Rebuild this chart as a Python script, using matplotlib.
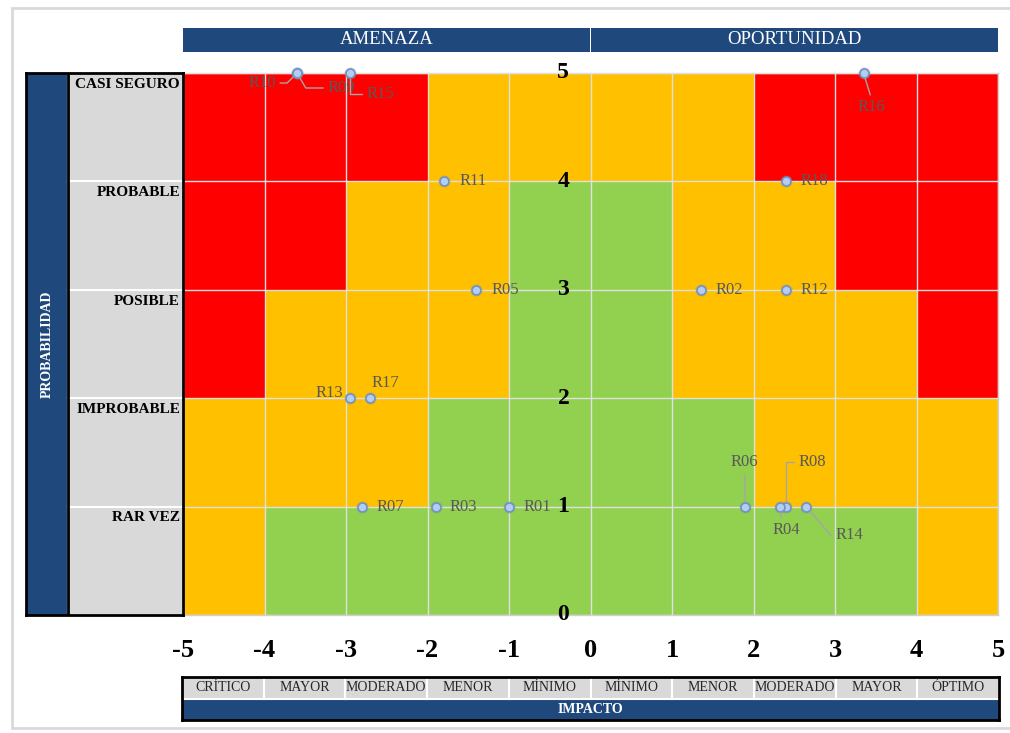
import matplotlib
matplotlib.use("Agg")
import matplotlib.pyplot as plt
import numpy as np
from matplotlib.colors import ListedColormap
from matplotlib.patches import Rectangle

plt.rcParams["font.family"] = ["Liberation Serif", "DejaVu Serif"]

W, H = 1010, 733

# impact axis: threat side negative, opportunity side positive
X_EDGES = np.arange(-5, 6)
Y_EDGES = np.arange(0, 6)
X_TICKS = [-5, -4, -3, -2, -1, 0, 1, 2, 3, 4, 5]
Y_TICKS = [0, 1, 2, 3, 4, 5]

# 0 = green, 1 = amber, 2 = red ; rows from bottom (RAR VEZ) to top (CASI SEGURO)
LEVELS = [
    [1, 0, 0, 0, 0, 0, 0, 0, 0, 1],
    [1, 1, 1, 0, 0, 0, 0, 1, 1, 1],
    [2, 1, 1, 1, 0, 0, 1, 1, 1, 2],
    [2, 2, 1, 1, 0, 0, 1, 1, 2, 2],
    [2, 2, 2, 1, 1, 1, 1, 2, 2, 2],
]

PROB_LABELS = ["RAR VEZ", "IMPROBABLE", "POSIBLE", "PROBABLE", "CASI SEGURO"]
IMPACT_LABELS = ["CRÍTICO", "MAYOR", "MODERADO", "MENOR", "MÍNIMO",
                 "MÍNIMO", "MENOR", "MODERADO", "MAYOR", "ÓPTIMO"]
HEADERS = ["AMENAZA", "OPORTUNIDAD"]

RISK_IDS = ["R10", "R09", "R15", "R16", "R11", "R18", "R05", "R02", "R12",
            "R13", "R17", "R07", "R03", "R01", "R06", "R08", "R04", "R14"]
RISK_X = [-3.6, -3.6, -2.95, 3.35, -1.8, 2.4, -1.4, 1.35, 2.4,
          -2.95, -2.7, -2.8, -1.9, -1.0, 1.9, 2.4, 2.33, 2.65]
RISK_Y = [5, 5, 5, 5, 4, 4, 3, 3, 3,
          2, 2, 1, 1, 1, 1, 1, 1, 1]

# label placement: pixel offset, and leader line (text anchor, connection) or None
LABEL_OFFSETS = {
    "R10": (-35, -10, ((1, 0.5), "angle,angleA=0,angleB=45,rad=0")),
    "R09": (44, -15, ((0, 0.5), "angle,angleA=0,angleB=-60,rad=0")),
    "R15": (30, -21, ((0, 0.5), "angle,angleA=0,angleB=90,rad=0")),
    "R16": (8, -34, ((0.5, 1), "arc3")),
    "R11": (29, 0, None), "R18": (28, 0, None),
    "R05": (29, 0, None), "R02": (29, 0, None), "R12": (28, 0, None),
    "R13": (-21, 5, None), "R17": (15, 15, None), "R07": (28, 0, None),
    "R03": (28, 0, None), "R01": (28, 0, None),
    "R06": (-1, 45, ((0.5, 0), "arc3")),
    "R08": (26, 45, ((0, 0.5), "angle,angleA=0,angleB=90,rad=0")),
    "R04": (6, -23, ((0.3, 1), "arc3")),
    "R14": (43, -28, ((0, 0.5), "angle,angleA=0,angleB=-50,rad=0")),
}

RED, AMBER, GREEN = "#ff0000", "#ffc000", "#92d050"
NAVY = "#1f497d"
GREY = "#d9d9d9"


def box(l, t, r, b):
    return [l / W, 1 - b / H, (r - l) / W, (b - t) / H]


fig = plt.figure(figsize=(W / 100, H / 100), dpi=100)
fig.patches.append(Rectangle((12 / W, 1 - 728 / H), 1.0, 720 / H, transform=fig.transFigure,
                             facecolor="white", edgecolor="#d9d9d9", lw=2, zorder=-10))

# main matrix
ax = fig.add_axes(box(183, 73, 998, 615))
ax.pcolormesh(X_EDGES, Y_EDGES, np.array(LEVELS), cmap=ListedColormap([GREEN, AMBER, RED]),
              vmin=-0.5, vmax=2.5)
ax.set_xlim(-5, 5)
ax.set_ylim(0, 5)
ax.set_xticks(X_TICKS)
ax.set_xticklabels([str(v) for v in X_TICKS], fontsize=19, fontweight="bold")
ax.set_yticks(Y_TICKS)
ax.set_yticklabels([])
ax.tick_params(length=0, pad=17)
ax.grid(True, color="#e0e0e0", lw=1)
ax.set_axisbelow(False)
for s in ax.spines.values():
    s.set_color("#d0d0d0")
    s.set_linewidth(1)
for v in Y_TICKS:
    ax.text(-0.26, v, str(v), ha="right", va="center", fontsize=17, fontweight="bold",
            clip_on=False, zorder=6)

ax.scatter(RISK_X, RISK_Y, s=80, color="#888888", alpha=0.25, zorder=4, clip_on=False, lw=0)
ax.scatter(RISK_X, RISK_Y, s=42, facecolor="#b4cdf0", edgecolor="#6f93c8", lw=1.2,
           zorder=5, clip_on=False)

for rid, x, y in zip(RISK_IDS, RISK_X, RISK_Y):
    dx, dy, leader = LABEL_OFFSETS[rid]
    kw = {}
    if leader:
        relpos, conn = leader
        kw["arrowprops"] = dict(arrowstyle="-", color="#a6a6a6", lw=1, shrinkA=1, shrinkB=4,
                                relpos=relpos, connectionstyle=conn)
    ax.annotate(rid, (x, y), xytext=(dx * 0.72, dy * 0.72), textcoords="offset points",
                ha="center", va="center", fontsize=12, color="#595959", zorder=6, **kw)

# probability panel
axl = fig.add_axes(box(26, 73, 183, 615))
axl.set_xlim(26, 183)
axl.set_ylim(0, 5)
axl.add_patch(Rectangle((26, 0), 42, 5, facecolor=NAVY, edgecolor="none"))
for i, lab in enumerate(PROB_LABELS):
    axl.add_patch(Rectangle((68, i), 115, 1, facecolor=GREY, edgecolor="white", lw=1.5))
    axl.text(180, i + 0.895, lab, ha="right", va="center", fontsize=11, fontweight="bold")
axl.axvline(68, color="black", lw=2)
axl.text(47, 2.5, "PROBABILIDAD", rotation=90, ha="center", va="center",
         color="white", fontsize=10, fontweight="bold")
axl.set_xticks([])
axl.set_yticks([])
for s in axl.spines.values():
    s.set_linewidth(2)

# headers
axt = fig.add_axes(box(183, 28, 998, 52))
axt.set_xlim(-5, 5)
axt.set_ylim(0, 1)
for j, lab in enumerate(HEADERS):
    x0 = -5 + 5 * j
    axt.add_patch(Rectangle((x0 + 0.01 * j, 0), 5 - 0.01, 1, facecolor=NAVY, edgecolor="none"))
    axt.text(x0 + 2.5, 0.5, lab, ha="center", va="center", color="white", fontsize=13.5)
axt.axis("off")

# impact scale
axb = fig.add_axes(box(182, 677, 999, 720))
axb.set_xlim(-5, 5)
axb.set_ylim(0, 42)
axb.add_patch(Rectangle((-5, 0), 10, 21, facecolor=NAVY, edgecolor="none"))
for j, lab in enumerate(IMPACT_LABELS):
    axb.add_patch(Rectangle((-5 + j, 21), 1, 21, facecolor=GREY, edgecolor="white", lw=1.5))
    axb.text(-4.5 + j, 31.5, lab, ha="center", va="center", fontsize=10, color="#262626")
axb.text(0, 10.5, "IMPACTO", ha="center", va="center", color="white", fontsize=10,
         fontweight="bold")
axb.set_xticks([])
axb.set_yticks([])
for s in axb.spines.values():
    s.set_linewidth(2)

fig.savefig("out.png", dpi=100)
